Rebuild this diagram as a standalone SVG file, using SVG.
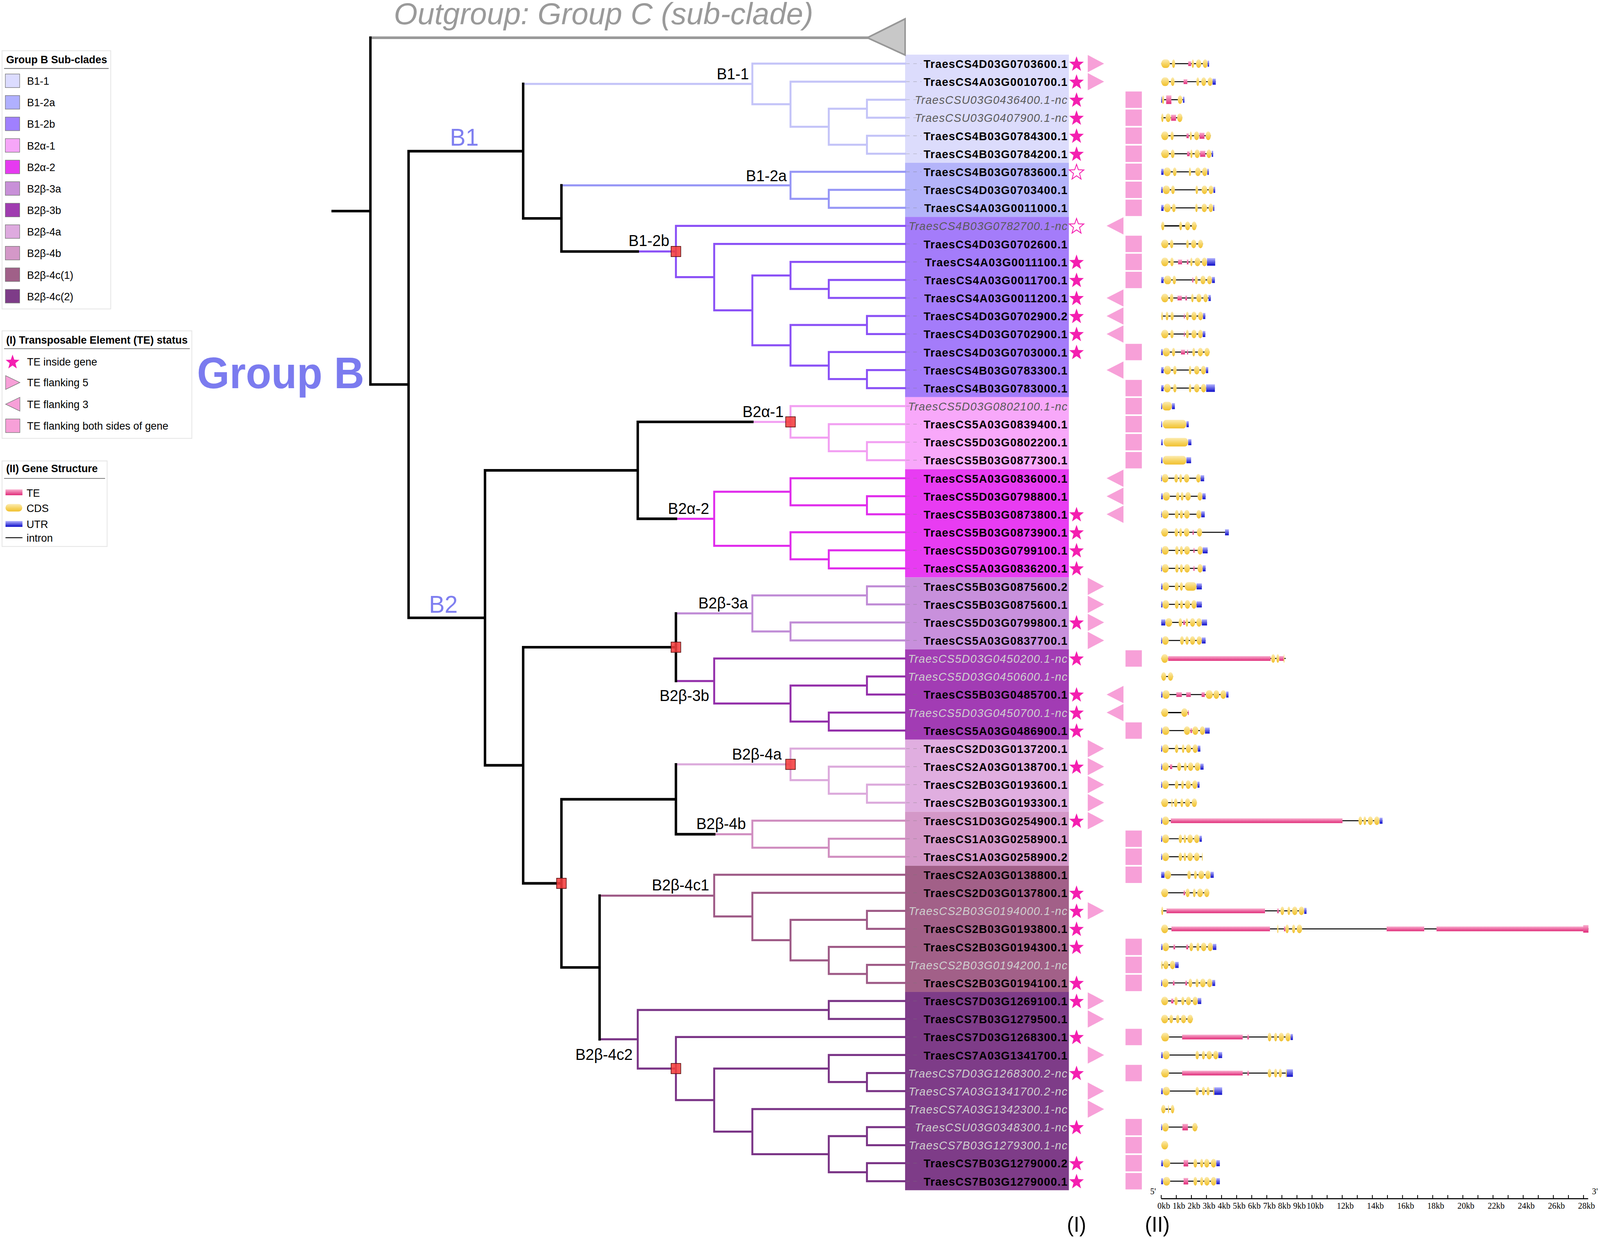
<svg xmlns="http://www.w3.org/2000/svg" width="4331" height="3170" viewBox="0 0 4331 3170">
<defs>
<style>
.n{font-family:"Liberation Sans",Arial,sans-serif;font-weight:bold;font-size:11px;letter-spacing:.5px;text-anchor:end;fill:#000}
.ni{font-family:"Liberation Sans",Arial,sans-serif;font-style:italic;font-size:11px;letter-spacing:.5px;text-anchor:end;fill:#5a5a5a}
.nl{fill:#cfcfcf}
.sf{fill:#f41fb0}
.so{fill:#fff;stroke:#f41fb0;stroke-width:.8}
.pk{fill:#f7a0d8}
.c{fill:url(#gC)}
.u{fill:url(#gU)}
.t{fill:url(#gT)}
.in{fill:none;stroke:#000;stroke-width:.9}
.k{fill:none;stroke:#000;stroke-width:2.4;stroke-linecap:square}
.b{fill:none;stroke-width:1.9;stroke-linecap:square}
.ld{fill:none;stroke:#777;stroke-opacity:.35;stroke-width:.6;stroke-dasharray:3.5 3.5}
.lab{font-family:"Liberation Sans",Arial,sans-serif;font-size:15px;text-anchor:end;fill:#000}
.lg{font-family:"Liberation Sans",Arial,sans-serif;font-size:10.3px;fill:#000}
.lgt{font-family:"Liberation Sans",Arial,sans-serif;font-weight:bold;font-size:10.3px;fill:#000}
.box{fill:#fff;stroke:#e6e6e6;stroke-width:.8}
.ul{stroke:#555;stroke-width:.6}
.sw{stroke:#777;stroke-width:.5}
.rs{fill:#f23c3c;fill-opacity:.88;stroke:#5a1010;stroke-width:.6}
.ax{font-family:"Liberation Serif","Times New Roman",serif;font-size:8.3px;fill:#000;text-anchor:middle}
.big{font-family:"Liberation Sans",Arial,sans-serif;fill:#7f7ff0}
</style>
<linearGradient id="gC" x1="0" y1="0" x2="0" y2="1"><stop offset="0" stop-color="#fcecb2"/><stop offset=".6" stop-color="#f6d15a"/><stop offset="1" stop-color="#f0c030"/></linearGradient>
<linearGradient id="gU" x1="0" y1="0" x2="0" y2="1"><stop offset="0" stop-color="#b4b4ff"/><stop offset="1" stop-color="#0a0ac8"/></linearGradient>
<linearGradient id="gT" x1="0" y1="0" x2="0" y2="1"><stop offset="0" stop-color="#f9b0d0"/><stop offset="1" stop-color="#e02a78"/></linearGradient>
<path id="st" d="M0,-7.5L1.82,-2.51L7.13,-2.32L2.95,0.96L4.41,6.07L0,3.1L-4.41,6.07L-2.95,0.96L-7.13,-2.32L-1.82,-2.51Z"/>
<polygon id="tr" class="pk" points="1066,-8 1082,0 1066,8"/>
<polygon id="tl" class="pk" points="1101,-8 1084.5,0 1101,8"/>
<rect id="sq" class="pk" x="1103" y="-7.6" width="16" height="15.2"/>
</defs>
<rect width="4331" height="3170" fill="#fff"/>
<g transform="scale(2.61225,2.76212)">

<g id="legend-subclades">
<rect class="box" x="2" y="47" width="106.5" height="239.4"/>
<text class="lgt" x="6" y="58.5">Group B Sub-clades</text>
<line class="ul" x1="4" y1="63.5" x2="106.5" y2="63.5"/>
<rect class="sw" x="5.2" y="68.6" width="14.1" height="12.6" fill="#dcdcff"/><text class="lg" x="26.5" y="78.6">B1-1</text>
<rect class="sw" x="5.2" y="88.57" width="14.1" height="12.6" fill="#b0b0ff"/><text class="lg" x="26.5" y="98.57">B1-2a</text>
<rect class="sw" x="5.2" y="108.54" width="14.1" height="12.6" fill="#a080ff"/><text class="lg" x="26.5" y="118.54">B1-2b</text>
<rect class="sw" x="5.2" y="128.51" width="14.1" height="12.6" fill="#f6a6f8"/><text class="lg" x="26.5" y="138.51">B2α-1</text>
<rect class="sw" x="5.2" y="148.48" width="14.1" height="12.6" fill="#e63af0"/><text class="lg" x="26.5" y="158.48">B2α-2</text>
<rect class="sw" x="5.2" y="168.45" width="14.1" height="12.6" fill="#c890d8"/><text class="lg" x="26.5" y="178.45">B2β-3a</text>
<rect class="sw" x="5.2" y="188.42" width="14.1" height="12.6" fill="#a03cb0"/><text class="lg" x="26.5" y="198.42">B2β-3b</text>
<rect class="sw" x="5.2" y="208.39" width="14.1" height="12.6" fill="#deaadf"/><text class="lg" x="26.5" y="218.39">B2β-4a</text>
<rect class="sw" x="5.2" y="228.36" width="14.1" height="12.6" fill="#d498c8"/><text class="lg" x="26.5" y="238.36">B2β-4b</text>
<rect class="sw" x="5.2" y="248.33" width="14.1" height="12.6" fill="#a06088"/><text class="lg" x="26.5" y="258.33">B2β-4c(1)</text>
<rect class="sw" x="5.2" y="268.3" width="14.1" height="12.6" fill="#7e3c88"/><text class="lg" x="26.5" y="278.3">B2β-4c(2)</text>
</g>

<g id="legend-te">
<rect class="box" x="2" y="306.7" width="186" height="99.7"/>
<text class="lgt" x="6" y="318.7">(I) Transposable Element (TE) status</text>
<line class="ul" x1="4" y1="323.2" x2="186" y2="323.2"/>
<use href="#st" class="sf" transform="translate(12.3,335.8) scale(.95)"/>
<polygon class="pk sw" points="5.5,348.2 19.5,354.6 5.5,361"/>
<polygon class="pk sw" points="19.5,368.3 5.5,374.7 19.5,381.1"/>
<rect class="pk sw" x="5.5" y="388.4" width="14" height="12.6"/>
<text class="lg" x="26.5" y="338.8">TE inside gene</text>
<text class="lg" x="26.5" y="358.2">TE flanking 5</text>
<text class="lg" x="26.5" y="378.3">TE flanking 3</text>
<text class="lg" x="26.5" y="398.3">TE flanking both sides of gene</text>
</g>

<g id="legend-structure">
<rect class="box" x="2" y="427.3" width="103" height="79.3"/>
<text class="lgt" x="6" y="437.8">(II) Gene Structure</text>
<line class="ul" x1="4" y1="443.5" x2="103" y2="443.5"/>
<rect class="t" x="5.4" y="453.7" width="16.6" height="5.4"/>
<rect class="c" x="5.4" y="467.2" width="16.4" height="7" rx="3.5" ry="3.5"/>
<rect class="u" x="5.4" y="483" width="16.6" height="5.4"/>
<line x1="5.4" y1="498.5" x2="22" y2="498.5" stroke="#000" stroke-width=".8"/>
<text class="lg" x="26" y="460.5">TE</text>
<text class="lg" x="26" y="474.6">CDS</text>
<text class="lg" x="26" y="489.4">UTR</text>
<text class="lg" x="26" y="502.2">intron</text>
</g>

<g id="bands">
<rect x="887" y="50.65" width="160.5" height="100.26" fill="#dcdcfc"/>
<rect x="887" y="150.91" width="160.5" height="50.13" fill="#b4b4fa"/>
<rect x="887" y="201.04" width="160.5" height="167.1" fill="#a47cfa"/>
<rect x="887" y="368.14" width="160.5" height="66.84" fill="#f8a8fa"/>
<rect x="887" y="434.98" width="160.5" height="100.26" fill="#e83cf2"/>
<rect x="887" y="535.24" width="160.5" height="66.84" fill="#c890dc"/>
<rect x="887" y="602.08" width="160.5" height="83.55" fill="#a23cb4"/>
<rect x="887" y="685.63" width="160.5" height="66.84" fill="#e0aee0"/>
<rect x="887" y="752.47" width="160.5" height="50.13" fill="#d498c8"/>
<rect x="887" y="802.6" width="160.5" height="116.97" fill="#a26088"/>
<rect x="887" y="919.57" width="160.5" height="183.81" fill="#7e3c88"/>
</g>

<g id="outgroup">
<text x="386" y="22.5" textLength="411" lengthAdjust="spacingAndGlyphs" style="font-family:'Liberation Sans',Arial,sans-serif;font-style:italic;font-size:28px;fill:#9a9a9a">Outgroup: Group C (sub-clade)</text>
<polygon points="850,35 887,17.5 887,51" fill="#c8c8c8" stroke="#979797" stroke-width="1.5" stroke-linejoin="miter"/>
</g>

<g id="clade-titles">
<text class="big" x="193" y="360" style="font-weight:bold;font-size:41px;fill:#7b7bef">Group B</text>
<text class="big" x="455" y="135" style="font-size:23px;text-anchor:middle">B1</text>
<text class="big" x="434.5" y="568" style="font-size:23px;text-anchor:middle">B2</text>
<text class="lab" x="734" y="73.5">B1-1</text>
<text class="lab" x="771" y="168">B1-2a</text>
<text class="lab" x="656" y="228">B1-2b</text>
<text class="lab" x="768" y="386.5">B2α-1</text>
<text class="lab" x="695" y="476.5">B2α-2</text>
<text class="lab" x="733" y="564">B2β-3a</text>
<text class="lab" x="695" y="650">B2β-3b</text>
<text class="lab" x="766" y="704">B2β-4a</text>
<text class="lab" x="731" y="768.5">B2β-4b</text>
<text class="lab" x="695" y="825.5">B2β-4c1</text>
<text class="lab" x="620" y="982.5">B2β-4c2</text>
</g>

<g id="connectors">
<path d="M363,35H851" fill="none" stroke="#999" stroke-width="2.4"/>
<path class="b" stroke="#c4c4f8" d="M512.7,77.8H737.3M887,59H737.3V96.6H774.7M887,75.71H774.7V117.49H812.2M849.6,100.78H812.2V134.2H849.6M887,92.42H849.6V109.13H887M887,125.84H849.6V142.55H887"/>
<path class="b" stroke="#9696f6" d="M550.2,171.8H774.7M887,159.26H774.7V184.33H812.2M887,175.97H812.2V192.68H887"/>
<path class="b" stroke="#8a50f6" d="M625,233.15H662.4M887,209.39H662.4V256.9H699.9M887,226.1H699.9V287.73H737.3M774.7,255.35H737.3V320.1H774.7M887,242.81H774.7V267.88H812.2M887,259.52H812.2V276.23H887M849.6,301.3H774.7V338.9H812.2M887,292.94H849.6V309.65H887M887,326.36H812.2V351.43H849.6M887,343.07H849.6V359.78H887"/>
<path class="b" stroke="#f2a0f2" d="M737.3,391.11H774.7M887,376.49H774.7V405.73H812.2M887,393.2H812.2V418.27H849.6M887,409.91H849.6V426.62H887"/>
<path class="b" stroke="#e02cec" d="M662.4,480.93H699.9M774.7,455.86H699.9V506H774.7M887,443.33H774.7V468.4H849.6M887,460.04H849.6V476.75H887M887,493.46H774.7V518.53H812.2M887,510.17H812.2V526.88H887"/>
<path class="b" stroke="#c08cd6" d="M662.4,568.66H737.3M849.6,551.95H737.3V585.37H774.7M887,543.59H849.6V560.3H887M887,577.01H774.7V593.72H887"/>
<path class="b" stroke="#9430aa" d="M662.4,631.32H699.9M887,610.43H699.9V652.21H774.7M849.6,635.5H774.7V668.92H812.2M887,627.14H849.6V643.85H887M887,660.56H812.2V677.27H887"/>
<path class="b" stroke="#dcaadc" d="M662.4,708.6H774.7M887,693.98H774.7V723.22H812.2M887,710.69H812.2V735.76H849.6M887,727.4H849.6V744.11H887"/>
<path class="b" stroke="#d08ec0" d="M699.9,773.35H737.3M887,760.82H737.3V785.89H812.2M887,777.53H812.2V794.24H887"/>
<path class="b" stroke="#9e5a86" d="M587.6,830.27H699.9M887,810.95H699.9V849.6H737.3M887,827.66H737.3V871.53H774.7M849.6,852.73H774.7V890.32H812.2M887,844.37H849.6V861.08H887M887,877.79H812.2V902.86H849.6M887,894.5H849.6V911.21H887"/>
<path class="b" stroke="#7a3486" d="M587.6,963.43H625M812.2,936.28H625V990.59H662.4M887,927.92H812.2V944.63H887M887,961.34H662.4V1019.83H699.9M812.2,990.59H699.9V1049.07H737.3M887,978.05H812.2V1003.12H849.6M887,994.76H849.6V1011.47H887M887,1028.18H737.3V1069.96H812.2M849.6,1053.25H812.2V1086.67H849.6M887,1044.89H849.6V1061.6H887M887,1078.31H849.6V1095.02H887"/>
<path class="k" d="M326,195.7H363M363,35V356.44H400.4M512.7,140.14H400.4V572.74H475.3M512.7,77.8V202.48H550.2M550.2,171.8V233.15H625M625,436.02H475.3V709.45H512.7M737.3,391.11H625V480.93H662.4M662.4,600H512.7V818.9H550.2M662.4,568.66V631.32M662.4,740.98H550.2V896.85H587.6M662.4,708.6V773.35H699.9M587.6,830.27V963.43"/>
<path class="ld" d="M888 59h15M888 75.71h15M888 92.42h15M888 109.13h15M888 125.84h15M888 142.55h15M888 159.26h15M888 175.97h15M888 192.68h15M888 209.39h15M888 226.1h15M888 242.81h15M888 259.52h15M888 276.23h15M888 292.94h15M888 309.65h15M888 326.36h15M888 343.07h15M888 359.78h15M888 376.49h15M888 393.2h15M888 409.91h15M888 426.62h15M888 443.33h15M888 460.04h15M888 476.75h15M888 493.46h15M888 510.17h15M888 526.88h15M888 543.59h15M888 560.3h15M888 577.01h15M888 593.72h15M888 610.43h15M888 627.14h15M888 643.85h15M888 660.56h15M888 677.27h15M888 693.98h15M888 710.69h15M888 727.4h15M888 744.11h15M888 760.82h15M888 777.53h15M888 794.24h15M888 810.95h15M888 827.66h15M888 844.37h15M888 861.08h15M888 877.79h15M888 894.5h15M888 911.21h15M888 927.92h15M888 944.63h15M888 961.34h15M888 978.05h15M888 994.76h15M888 1011.47h15M888 1028.18h15M888 1044.89h15M888 1061.6h15M888 1078.31h15M888 1095.02h15"/>
<rect class="rs" x="657.65" y="228.4" width="9.5" height="9.5"/>
<rect class="rs" x="769.95" y="386.36" width="9.5" height="9.5"/>
<rect class="rs" x="657.65" y="595.25" width="9.5" height="9.5"/>
<rect class="rs" x="769.95" y="703.85" width="9.5" height="9.5"/>
<rect class="rs" x="545.45" y="814.15" width="9.5" height="9.5"/>
<rect class="rs" x="657.65" y="985.84" width="9.5" height="9.5"/>
</g>

<g id="rows">
<g id="r0" transform="translate(0,59)"><text class="n" x="1046.5" y="4">TraesCS4D03G0703600.1</text><use href="#st" class="sf" x="1055" y=".6"/><use href="#tr"/><g transform="translate(1122.37,0) scale(.28423,1)"><path class="in" d="M55 0H220"/><rect class="c" x="55" y="-4" width="30" height="8" rx="12" ry="4"/><rect class="c" x="92" y="-4" width="11" height="8" rx="12" ry="4"/><rect class="t" x="148" y="-2.2" width="10" height="4.4"/><rect class="c" x="160" y="-4" width="8" height="8" rx="12" ry="4"/><rect class="c" x="175" y="-4" width="18" height="8" rx="12" ry="4"/><rect class="c" x="198" y="-4" width="17" height="8" rx="12" ry="4"/><rect class="u" x="215" y="-2.8" width="5" height="5.6"/></g></g>
<g id="r1" transform="translate(0,75.71)"><text class="n" x="1046.5" y="4">TraesCS4A03G0010700.1</text><use href="#st" class="sf" x="1055" y=".6"/><use href="#tr"/><g transform="translate(1122.37,0) scale(.28423,1)"><path class="in" d="M55 0H243"/><rect class="c" x="55" y="-4" width="27" height="8" rx="12" ry="4"/><rect class="c" x="88" y="-4" width="13" height="8" rx="12" ry="4"/><rect class="t" x="132" y="-2.2" width="13" height="4.4"/><rect class="c" x="176" y="-4" width="10" height="8" rx="12" ry="4"/><rect class="c" x="193" y="-4" width="17" height="8" rx="12" ry="4"/><rect class="c" x="215" y="-4" width="17" height="8" rx="12" ry="4"/><rect class="u" x="232" y="-2.8" width="11" height="5.6"/></g></g>
<g id="r2" transform="translate(0,92.42)"><text class="ni" x="1046.5" y="4">TraesCSU03G0436400.1-nc</text><use href="#st" class="sf" x="1055" y=".6"/><use href="#sq"/><g transform="translate(1122.37,0) scale(.28423,1)"><path class="in" d="M55 0H135"/><rect class="u" x="55" y="-2.8" width="3" height="5.6"/><rect class="c" x="58" y="-4" width="7" height="8" rx="12" ry="4"/><rect class="t" x="72" y="-4" width="18" height="8"/><rect class="c" x="112" y="-4" width="16" height="8" rx="12" ry="4"/><rect class="u" x="130" y="-2.8" width="5" height="5.6"/></g></g>
<g id="r3" transform="translate(0,109.13)"><text class="ni" x="1046.5" y="4">TraesCSU03G0407900.1-nc</text><use href="#st" class="sf" x="1055" y=".6"/><use href="#sq"/><g transform="translate(1122.37,0) scale(.28423,1)"><path class="in" d="M55 0H128"/><rect class="c" x="55" y="-4" width="8" height="8" rx="12" ry="4"/><rect class="c" x="70" y="-4" width="18" height="8" rx="12" ry="4"/><rect class="t" x="89" y="-2.8" width="17" height="5.6"/><rect class="c" x="110" y="-4" width="18" height="8" rx="12" ry="4"/></g></g>
<g id="r4" transform="translate(0,125.84)"><text class="n" x="1046.5" y="4">TraesCS4B03G0784300.1</text><use href="#st" class="sf" x="1055" y=".6"/><use href="#sq"/><g transform="translate(1122.37,0) scale(.28423,1)"><path class="in" d="M55 0H226"/><rect class="c" x="55" y="-4" width="25" height="8" rx="12" ry="4"/><rect class="c" x="87" y="-4" width="11" height="8" rx="12" ry="4"/><rect class="t" x="142" y="-2.2" width="8" height="4.4"/><rect class="c" x="153" y="-4" width="8" height="8" rx="12" ry="4"/><rect class="c" x="168" y="-4" width="18" height="8" rx="12" ry="4"/><rect class="t" x="187" y="-2.8" width="17" height="5.6"/><rect class="c" x="208" y="-4" width="18" height="8" rx="12" ry="4"/></g></g>
<g id="r5" transform="translate(0,142.55)"><text class="n" x="1046.5" y="4">TraesCS4B03G0784200.1</text><use href="#st" class="sf" x="1055" y=".6"/><use href="#sq"/><g transform="translate(1122.37,0) scale(.28423,1)"><path class="in" d="M55 0H234"/><rect class="c" x="55" y="-4" width="27" height="8" rx="12" ry="4"/><rect class="c" x="88" y="-4" width="13" height="8" rx="12" ry="4"/><rect class="t" x="144" y="-2.2" width="9" height="4.4"/><rect class="c" x="155" y="-4" width="8" height="8" rx="12" ry="4"/><rect class="c" x="170" y="-4" width="18" height="8" rx="12" ry="4"/><rect class="t" x="189" y="-2.8" width="18" height="5.6"/><rect class="c" x="211" y="-4" width="17" height="8" rx="12" ry="4"/><rect class="u" x="229" y="-2.8" width="5" height="5.6"/></g></g>
<g id="r6" transform="translate(0,159.26)"><text class="n" x="1046.5" y="4">TraesCS4B03G0783600.1</text><use href="#st" class="so" x="1055" y=".6"/><use href="#sq"/><g transform="translate(1122.37,0) scale(.28423,1)"><path class="in" d="M55 0H219"/><rect class="u" x="55" y="-2.8" width="8" height="5.6"/><rect class="c" x="63" y="-4" width="25" height="8" rx="12" ry="4"/><rect class="c" x="95" y="-4" width="13" height="8" rx="12" ry="4"/><rect class="c" x="150" y="-4" width="8" height="8" rx="12" ry="4"/><rect class="c" x="172" y="-4" width="19" height="8" rx="12" ry="4"/><rect class="c" x="196" y="-4" width="18" height="8" rx="12" ry="4"/><rect class="u" x="214" y="-2.8" width="5" height="5.6"/></g></g>
<g id="r7" transform="translate(0,175.97)"><text class="n" x="1046.5" y="4">TraesCS4D03G0703400.1</text><use href="#sq"/><g transform="translate(1122.37,0) scale(.28423,1)"><path class="in" d="M55 0H241"/><rect class="u" x="55" y="-2.8" width="5" height="5.6"/><rect class="c" x="60" y="-4" width="25" height="8" rx="12" ry="4"/><rect class="c" x="89" y="-4" width="13" height="8" rx="12" ry="4"/><rect class="c" x="173" y="-4" width="9" height="8" rx="12" ry="4"/><rect class="c" x="194" y="-4" width="20" height="8" rx="12" ry="4"/><rect class="c" x="218" y="-4" width="17" height="8" rx="12" ry="4"/><rect class="u" x="235" y="-2.8" width="6" height="5.6"/></g></g>
<g id="r8" transform="translate(0,192.68)"><text class="n" x="1046.5" y="4">TraesCS4A03G0011000.1</text><use href="#sq"/><g transform="translate(1122.37,0) scale(.28423,1)"><path class="in" d="M55 0H238"/><rect class="u" x="55" y="-2.8" width="8" height="5.6"/><rect class="c" x="64" y="-4" width="24" height="8" rx="12" ry="4"/><rect class="c" x="92" y="-4" width="13" height="8" rx="12" ry="4"/><rect class="c" x="172" y="-4" width="9" height="8" rx="12" ry="4"/><rect class="c" x="194" y="-4" width="19" height="8" rx="12" ry="4"/><rect class="c" x="218" y="-4" width="16" height="8" rx="12" ry="4"/><rect class="u" x="234" y="-2.8" width="4" height="5.6"/></g></g>
<g id="r9" transform="translate(0,209.39)"><text class="ni" x="1046.5" y="4">TraesCS4B03G0782700.1-nc</text><use href="#st" class="so" x="1055" y=".6"/><use href="#tl"/><g transform="translate(1122.37,0) scale(.28423,1)"><path class="in" d="M55 0H177" style="stroke-width:1.2"/><rect class="c" x="55" y="-4" width="11" height="8" rx="12" ry="4"/><rect class="c" x="117" y="-4" width="10" height="8" rx="12" ry="4"/><rect class="c" x="137" y="-4" width="18" height="8" rx="12" ry="4"/><rect class="c" x="160" y="-4" width="17" height="8" rx="12" ry="4"/></g></g>
<g id="r10" transform="translate(0,226.1)"><text class="n" x="1046.5" y="4">TraesCS4D03G0702600.1</text><use href="#sq"/><g transform="translate(1122.37,0) scale(.28423,1)"><path class="in" d="M55 0H199"/><rect class="c" x="55" y="-4" width="25" height="8" rx="12" ry="4"/><rect class="c" x="85" y="-4" width="12" height="8" rx="12" ry="4"/><rect class="c" x="141" y="-4" width="9" height="8" rx="12" ry="4"/><rect class="c" x="158" y="-4" width="18" height="8" rx="12" ry="4"/><rect class="c" x="182" y="-4" width="17" height="8" rx="12" ry="4"/></g></g>
<g id="r11" transform="translate(0,242.81)"><text class="n" x="1046.5" y="4">TraesCS4A03G0011100.1</text><use href="#st" class="sf" x="1055" y=".6"/><use href="#sq"/><g transform="translate(1122.37,0) scale(.28423,1)"><path class="in" d="M55 0H241"/><rect class="c" x="55" y="-4" width="25" height="8" rx="12" ry="4"/><rect class="c" x="86" y="-4" width="12" height="8" rx="12" ry="4"/><rect class="t" x="113" y="-2.2" width="14" height="4.4"/><rect class="t" x="143" y="-2.2" width="6" height="4.4"/><rect class="c" x="155" y="-4" width="8" height="8" rx="12" ry="4"/><rect class="c" x="170" y="-4" width="20" height="8" rx="12" ry="4"/><rect class="c" x="195" y="-4" width="18" height="8" rx="12" ry="4"/><rect class="u" x="213" y="-3.5" width="28" height="7"/></g></g>
<g id="r12" transform="translate(0,259.52)"><text class="n" x="1046.5" y="4">TraesCS4A03G0011700.1</text><use href="#st" class="sf" x="1055" y=".6"/><use href="#sq"/><g transform="translate(1122.37,0) scale(.28423,1)"><path class="in" d="M55 0H240"/><rect class="u" x="55" y="-2.8" width="8" height="5.6"/><rect class="c" x="64" y="-4" width="26" height="8" rx="12" ry="4"/><rect class="c" x="94" y="-4" width="12" height="8" rx="12" ry="4"/><rect class="t" x="162" y="-2.2" width="4" height="4.4"/><rect class="c" x="171" y="-4" width="10" height="8" rx="12" ry="4"/><rect class="c" x="190" y="-4" width="18" height="8" rx="12" ry="4"/><rect class="c" x="213" y="-4" width="17" height="8" rx="12" ry="4"/><rect class="u" x="230" y="-2.8" width="10" height="5.6"/></g></g>
<g id="r13" transform="translate(0,276.23)"><text class="n" x="1046.5" y="4">TraesCS4A03G0011200.1</text><use href="#st" class="sf" x="1055" y=".6"/><use href="#tl"/><g transform="translate(1122.37,0) scale(.28423,1)"><path class="in" d="M55 0H226"/><rect class="c" x="55" y="-4" width="25" height="8" rx="12" ry="4"/><rect class="c" x="85" y="-4" width="12" height="8" rx="12" ry="4"/><rect class="t" x="111" y="-2.2" width="15" height="4.4"/><rect class="t" x="138" y="-2.2" width="6" height="4.4"/><rect class="c" x="158" y="-4" width="9" height="8" rx="12" ry="4"/><rect class="c" x="176" y="-4" width="18" height="8" rx="12" ry="4"/><rect class="c" x="200" y="-4" width="16" height="8" rx="12" ry="4"/><rect class="u" x="218" y="-2.8" width="8" height="5.6"/></g></g>
<g id="r14" transform="translate(0,292.94)"><text class="n" x="1046.5" y="4">TraesCS4D03G0702900.2</text><use href="#st" class="sf" x="1055" y=".6"/><use href="#tl"/><g transform="translate(1122.37,0) scale(.28423,1)"><path class="in" d="M55 0H207"/><rect class="c" x="55" y="-4" width="6" height="8" rx="12" ry="4"/><rect class="c" x="70" y="-4" width="10" height="8" rx="12" ry="4"/><rect class="c" x="87" y="-4" width="11" height="8" rx="12" ry="4"/><rect class="t" x="133" y="-2.2" width="3" height="4.4"/><rect class="c" x="140" y="-4" width="10" height="8" rx="12" ry="4"/><rect class="c" x="159" y="-4" width="18" height="8" rx="12" ry="4"/><rect class="c" x="182" y="-4" width="17" height="8" rx="12" ry="4"/><rect class="u" x="199" y="-2.8" width="8" height="5.6"/></g></g>
<g id="r15" transform="translate(0,309.65)"><text class="n" x="1046.5" y="4">TraesCS4D03G0702900.1</text><use href="#st" class="sf" x="1055" y=".6"/><use href="#tl"/><g transform="translate(1122.37,0) scale(.28423,1)"><path class="in" d="M55 0H207"/><rect class="c" x="55" y="-4" width="25" height="8" rx="12" ry="4"/><rect class="c" x="86" y="-4" width="12" height="8" rx="12" ry="4"/><rect class="t" x="133" y="-2.2" width="3" height="4.4"/><rect class="c" x="140" y="-4" width="10" height="8" rx="12" ry="4"/><rect class="c" x="159" y="-4" width="18" height="8" rx="12" ry="4"/><rect class="c" x="182" y="-4" width="16" height="8" rx="12" ry="4"/><rect class="u" x="198" y="-2.8" width="9" height="5.6"/></g></g>
<g id="r16" transform="translate(0,326.36)"><text class="n" x="1046.5" y="4">TraesCS4D03G0703000.1</text><use href="#st" class="sf" x="1055" y=".6"/><use href="#sq"/><g transform="translate(1122.37,0) scale(.28423,1)"><path class="in" d="M55 0H222"/><rect class="u" x="55" y="-2.8" width="5" height="5.6"/><rect class="c" x="60" y="-4" width="25" height="8" rx="12" ry="4"/><rect class="c" x="92" y="-4" width="11" height="8" rx="12" ry="4"/><rect class="t" x="123" y="-2.2" width="14" height="4.4"/><rect class="t" x="144" y="-2.2" width="4" height="4.4"/><rect class="c" x="162" y="-4" width="10" height="8" rx="12" ry="4"/><rect class="c" x="181" y="-4" width="18" height="8" rx="12" ry="4"/><rect class="c" x="204" y="-4" width="18" height="8" rx="12" ry="4"/></g></g>
<g id="r17" transform="translate(0,343.07)"><text class="n" x="1046.5" y="4">TraesCS4B03G0783300.1</text><use href="#tl"/><g transform="translate(1122.37,0) scale(.28423,1)"><path class="in" d="M55 0H217"/><rect class="u" x="55" y="-2.8" width="8" height="5.6"/><rect class="c" x="64" y="-4" width="25" height="8" rx="12" ry="4"/><rect class="c" x="96" y="-4" width="12" height="8" rx="12" ry="4"/><rect class="c" x="150" y="-4" width="9" height="8" rx="12" ry="4"/><rect class="c" x="168" y="-4" width="19" height="8" rx="12" ry="4"/><rect class="c" x="192" y="-4" width="17" height="8" rx="12" ry="4"/><rect class="u" x="209" y="-2.8" width="8" height="5.6"/></g></g>
<g id="r18" transform="translate(0,359.78)"><text class="n" x="1046.5" y="4">TraesCS4B03G0783000.1</text><use href="#sq"/><g transform="translate(1122.37,0) scale(.28423,1)"><path class="in" d="M55 0H240"/><rect class="u" x="55" y="-2.8" width="8" height="5.6"/><rect class="c" x="64" y="-4" width="24" height="8" rx="12" ry="4"/><rect class="c" x="96" y="-4" width="12" height="8" rx="12" ry="4"/><rect class="c" x="150" y="-4" width="9" height="8" rx="12" ry="4"/><rect class="c" x="168" y="-4" width="19" height="8" rx="12" ry="4"/><rect class="c" x="192" y="-4" width="18" height="8" rx="12" ry="4"/><rect class="u" x="210" y="-3.5" width="30" height="7"/></g></g>
<g id="r19" transform="translate(0,376.49)"><text class="ni" x="1046.5" y="4">TraesCS5D03G0802100.1-nc</text><use href="#sq"/><g transform="translate(1122.37,0) scale(.28423,1)"><rect class="u" x="55" y="-2.8" width="3" height="5.6"/><rect class="c" x="58" y="-4" width="34" height="8" rx="12" ry="4"/><rect class="u" x="92" y="-2.8" width="10" height="5.6"/></g></g>
<g id="r20" transform="translate(0,393.2)"><text class="n" x="1046.5" y="4">TraesCS5A03G0839400.1</text><use href="#sq"/><g transform="translate(1122.37,0) scale(.28423,1)"><rect class="u" x="55" y="-2.8" width="3" height="5.6"/><rect class="c" x="60" y="-4" width="82" height="8" rx="12" ry="4"/><rect class="u" x="142" y="-2.8" width="8" height="5.6"/></g></g>
<g id="r21" transform="translate(0,409.91)"><text class="n" x="1046.5" y="4">TraesCS5D03G0802200.1</text><use href="#sq"/><g transform="translate(1122.37,0) scale(.28423,1)"><rect class="u" x="55" y="-2.8" width="5" height="5.6"/><rect class="c" x="63" y="-4" width="85" height="8" rx="12" ry="4"/><rect class="u" x="148" y="-2.8" width="11" height="5.6"/></g></g>
<g id="r22" transform="translate(0,426.62)"><text class="n" x="1046.5" y="4">TraesCS5B03G0877300.1</text><use href="#sq"/><g transform="translate(1122.37,0) scale(.28423,1)"><rect class="u" x="55" y="-2.8" width="4" height="5.6"/><rect class="c" x="60" y="-4" width="82" height="8" rx="12" ry="4"/><rect class="u" x="142" y="-2.8" width="16" height="5.6"/></g></g>
<g id="r23" transform="translate(0,443.33)"><text class="n" x="1046.5" y="4">TraesCS5A03G0836000.1</text><use href="#tl"/><g transform="translate(1122.37,0) scale(.28423,1)"><path class="in" d="M55 0H203"/><rect class="u" x="55" y="-2.8" width="2" height="5.6"/><rect class="c" x="57" y="-4" width="23" height="8" rx="12" ry="4"/><rect class="c" x="100" y="-4" width="13" height="8" rx="12" ry="4"/><rect class="c" x="117" y="-4" width="10" height="8" rx="12" ry="4"/><rect class="c" x="133" y="-4" width="19" height="8" rx="12" ry="4"/><rect class="c" x="175" y="-4" width="16" height="8" rx="12" ry="4"/><rect class="u" x="191" y="-2.8" width="12" height="5.6"/></g></g>
<g id="r24" transform="translate(0,460.04)"><text class="n" x="1046.5" y="4">TraesCS5D03G0798800.1</text><use href="#tl"/><g transform="translate(1122.37,0) scale(.28423,1)"><path class="in" d="M55 0H208"/><rect class="u" x="55" y="-2.8" width="5" height="5.6"/><rect class="c" x="60" y="-4" width="25" height="8" rx="12" ry="4"/><rect class="c" x="106" y="-4" width="12" height="8" rx="12" ry="4"/><rect class="c" x="122" y="-4" width="10" height="8" rx="12" ry="4"/><rect class="c" x="138" y="-4" width="19" height="8" rx="12" ry="4"/><rect class="c" x="180" y="-4" width="17" height="8" rx="12" ry="4"/><rect class="u" x="197" y="-2.8" width="11" height="5.6"/></g></g>
<g id="r25" transform="translate(0,476.75)"><text class="n" x="1046.5" y="4">TraesCS5B03G0873800.1</text><use href="#st" class="sf" x="1055" y=".6"/><use href="#tl"/><g transform="translate(1122.37,0) scale(.28423,1)"><path class="in" d="M55 0H205"/><rect class="u" x="55" y="-2.8" width="2" height="5.6"/><rect class="c" x="57" y="-4" width="24" height="8" rx="12" ry="4"/><rect class="c" x="102" y="-4" width="13" height="8" rx="12" ry="4"/><rect class="c" x="119" y="-4" width="11" height="8" rx="12" ry="4"/><rect class="c" x="134" y="-4" width="19" height="8" rx="12" ry="4"/><rect class="c" x="176" y="-4" width="17" height="8" rx="12" ry="4"/><rect class="u" x="193" y="-2.8" width="12" height="5.6"/></g></g>
<g id="r26" transform="translate(0,493.46)"><text class="n" x="1046.5" y="4">TraesCS5B03G0873900.1</text><use href="#st" class="sf" x="1055" y=".6"/><g transform="translate(1122.37,0) scale(.28423,1)"><path class="in" d="M55 0H288"/><rect class="c" x="55" y="-4" width="24" height="8" rx="12" ry="4"/><rect class="c" x="101" y="-4" width="12" height="8" rx="12" ry="4"/><rect class="c" x="117" y="-4" width="10" height="8" rx="12" ry="4"/><rect class="c" x="133" y="-4" width="19" height="8" rx="12" ry="4"/><rect class="t" x="163" y="-2.2" width="4" height="4.4"/><rect class="c" x="178" y="-4" width="18" height="8" rx="12" ry="4"/><rect class="u" x="275" y="-2.8" width="13" height="5.6"/></g></g>
<g id="r27" transform="translate(0,510.17)"><text class="n" x="1046.5" y="4">TraesCS5D03G0799100.1</text><use href="#st" class="sf" x="1055" y=".6"/><g transform="translate(1122.37,0) scale(.28423,1)"><path class="in" d="M55 0H215"/><rect class="u" x="55" y="-2.8" width="2" height="5.6"/><rect class="c" x="57" y="-4" width="24" height="8" rx="12" ry="4"/><rect class="c" x="103" y="-4" width="12" height="8" rx="12" ry="4"/><rect class="c" x="119" y="-4" width="11" height="8" rx="12" ry="4"/><rect class="c" x="134" y="-4" width="20" height="8" rx="12" ry="4"/><rect class="t" x="166" y="-2.2" width="4" height="4.4"/><rect class="c" x="180" y="-4" width="18" height="8" rx="12" ry="4"/><rect class="u" x="198" y="-2.8" width="17" height="5.6"/></g></g>
<g id="r28" transform="translate(0,526.88)"><text class="n" x="1046.5" y="4">TraesCS5A03G0836200.1</text><use href="#st" class="sf" x="1055" y=".6"/><g transform="translate(1122.37,0) scale(.28423,1)"><path class="in" d="M55 0H208"/><rect class="u" x="55" y="-2.8" width="2" height="5.6"/><rect class="c" x="57" y="-4" width="24" height="8" rx="12" ry="4"/><rect class="c" x="103" y="-4" width="12" height="8" rx="12" ry="4"/><rect class="c" x="119" y="-4" width="11" height="8" rx="12" ry="4"/><rect class="c" x="134" y="-4" width="20" height="8" rx="12" ry="4"/><rect class="t" x="166" y="-2.2" width="4" height="4.4"/><rect class="c" x="180" y="-4" width="18" height="8" rx="12" ry="4"/><rect class="u" x="198" y="-2.8" width="10" height="5.6"/></g></g>
<g id="r29" transform="translate(0,543.59)"><text class="n" x="1046.5" y="4">TraesCS5B03G0875600.2</text><use href="#tr"/><g transform="translate(1122.37,0) scale(.28423,1)"><path class="in" d="M55 0H195"/><rect class="u" x="55" y="-2.8" width="4" height="5.6"/><rect class="c" x="59" y="-4" width="23" height="8" rx="12" ry="4"/><rect class="c" x="102" y="-4" width="13" height="8" rx="12" ry="4"/><rect class="c" x="119" y="-4" width="11" height="8" rx="12" ry="4"/><rect class="c" x="136" y="-4" width="41" height="8" rx="12" ry="4"/><rect class="u" x="177" y="-2.8" width="18" height="5.6"/></g></g>
<g id="r30" transform="translate(0,560.3)"><text class="n" x="1046.5" y="4">TraesCS5B03G0875600.1</text><use href="#tr"/><g transform="translate(1122.37,0) scale(.28423,1)"><path class="in" d="M55 0H195"/><rect class="u" x="55" y="-2.8" width="4" height="5.6"/><rect class="c" x="59" y="-4" width="23" height="8" rx="12" ry="4"/><rect class="c" x="102" y="-4" width="13" height="8" rx="12" ry="4"/><rect class="c" x="120" y="-4" width="10" height="8" rx="12" ry="4"/><rect class="c" x="136" y="-4" width="19" height="8" rx="12" ry="4"/><rect class="c" x="159" y="-4" width="18" height="8" rx="12" ry="4"/><rect class="u" x="177" y="-2.8" width="18" height="5.6"/></g></g>
<g id="r31" transform="translate(0,577.01)"><text class="n" x="1046.5" y="4">TraesCS5D03G0799800.1</text><use href="#st" class="sf" x="1055" y=".6"/><use href="#tr"/><g transform="translate(1122.37,0) scale(.28423,1)"><path class="in" d="M55 0H213"/><rect class="u" x="55" y="-2.8" width="14" height="5.6"/><rect class="c" x="69" y="-4" width="24" height="8" rx="12" ry="4"/><rect class="c" x="115" y="-4" width="12" height="8" rx="12" ry="4"/><rect class="t" x="131" y="-2.2" width="6" height="4.4"/><rect class="c" x="139" y="-4" width="9" height="8" rx="12" ry="4"/><rect class="c" x="154" y="-4" width="18" height="8" rx="12" ry="4"/><rect class="c" x="176" y="-4" width="19" height="8" rx="12" ry="4"/><rect class="u" x="195" y="-2.8" width="18" height="5.6"/></g></g>
<g id="r32" transform="translate(0,593.72)"><text class="n" x="1046.5" y="4">TraesCS5A03G0837700.1</text><use href="#tr"/><g transform="translate(1122.37,0) scale(.28423,1)"><path class="in" d="M55 0H208"/><rect class="u" x="55" y="-2.8" width="3" height="5.6"/><rect class="c" x="58" y="-4" width="23" height="8" rx="12" ry="4"/><rect class="c" x="120" y="-4" width="13" height="8" rx="12" ry="4"/><rect class="c" x="138" y="-4" width="12" height="8" rx="12" ry="4"/><rect class="c" x="154" y="-4" width="18" height="8" rx="12" ry="4"/><rect class="c" x="177" y="-4" width="18" height="8" rx="12" ry="4"/><rect class="u" x="195" y="-2.8" width="13" height="5.6"/></g></g>
<g id="r33" transform="translate(0,610.43)"><text class="ni nl" x="1046.5" y="4">TraesCS5D03G0450200.1-nc</text><use href="#st" class="sf" x="1055" y=".6"/><use href="#sq"/><g transform="translate(1122.37,0) scale(.28423,1)"><path class="in" d="M55 0H484"/><rect class="c" x="55" y="-4" width="24" height="8" rx="12" ry="4"/><rect class="t" x="79" y="-2.2" width="353" height="4.4"/><rect class="c" x="434" y="-4" width="14" height="8" rx="12" ry="4"/><rect class="c" x="452" y="-4" width="10" height="8" rx="12" ry="4"/><rect class="t" x="462" y="-2.2" width="15" height="4.4"/><rect class="c" x="477" y="-4" width="3" height="8" rx="12" ry="4"/></g></g>
<g id="r34" transform="translate(0,627.14)"><text class="ni nl" x="1046.5" y="4">TraesCS5D03G0450600.1-nc</text><g transform="translate(1122.37,0) scale(.28423,1)"><path class="in" d="M55 0H96"/><rect class="c" x="55" y="-4" width="17" height="8" rx="12" ry="4"/><rect class="c" x="78" y="-4" width="18" height="8" rx="12" ry="4"/></g></g>
<g id="r35" transform="translate(0,643.85)"><text class="n" x="1046.5" y="4">TraesCS5B03G0485700.1</text><use href="#st" class="sf" x="1055" y=".6"/><use href="#tl"/><g transform="translate(1122.37,0) scale(.28423,1)"><path class="in" d="M55 0H287"/><rect class="u" x="55" y="-2.8" width="4" height="5.6"/><rect class="c" x="59" y="-4" width="25" height="8" rx="12" ry="4"/><rect class="t" x="107" y="-2.2" width="19" height="4.4"/><rect class="t" x="141" y="-2.2" width="16" height="4.4"/><rect class="t" x="194" y="-2.2" width="11" height="4.4"/><rect class="c" x="208" y="-4" width="25" height="8" rx="12" ry="4"/><rect class="c" x="235" y="-4" width="20" height="8" rx="12" ry="4"/><rect class="c" x="259" y="-4" width="20" height="8" rx="12" ry="4"/><rect class="u" x="279" y="-2.8" width="8" height="5.6"/></g></g>
<g id="r36" transform="translate(0,660.56)"><text class="ni nl" x="1046.5" y="4">TraesCS5D03G0450700.1-nc</text><use href="#st" class="sf" x="1055" y=".6"/><use href="#tl"/><g transform="translate(1122.37,0) scale(.28423,1)"><path class="in" d="M55 0H150" style="stroke-width:1.2"/><rect class="c" x="55" y="-4" width="24" height="8" rx="12" ry="4"/><rect class="c" x="124" y="-4" width="22" height="8" rx="12" ry="4"/><rect class="t" x="147" y="-2.2" width="3" height="4.4"/></g></g>
<g id="r37" transform="translate(0,677.27)"><text class="n" x="1046.5" y="4">TraesCS5A03G0486900.1</text><use href="#st" class="sf" x="1055" y=".6"/><use href="#sq"/><g transform="translate(1122.37,0) scale(.28423,1)"><path class="in" d="M55 0H222"/><rect class="u" x="55" y="-2.8" width="3" height="5.6"/><rect class="c" x="58" y="-4" width="25" height="8" rx="12" ry="4"/><rect class="c" x="133" y="-4" width="22" height="8" rx="12" ry="4"/><rect class="t" x="156" y="-2.2" width="5" height="4.4"/><rect class="c" x="162" y="-4" width="21" height="8" rx="12" ry="4"/><rect class="c" x="188" y="-4" width="18" height="8" rx="12" ry="4"/><rect class="u" x="206" y="-2.8" width="16" height="5.6"/></g></g>
<g id="r38" transform="translate(0,693.98)"><text class="n" x="1046.5" y="4">TraesCS2D03G0137200.1</text><use href="#tr"/><g transform="translate(1122.37,0) scale(.28423,1)"><path class="in" d="M55 0H190"/><rect class="u" x="55" y="-2.8" width="3" height="5.6"/><rect class="c" x="58" y="-4" width="23" height="8" rx="12" ry="4"/><rect class="c" x="102" y="-4" width="12" height="8" rx="12" ry="4"/><rect class="c" x="126" y="-4" width="9" height="8" rx="12" ry="4"/><rect class="c" x="140" y="-4" width="18" height="8" rx="12" ry="4"/><rect class="c" x="163" y="-4" width="18" height="8" rx="12" ry="4"/><rect class="u" x="181" y="-2.8" width="9" height="5.6"/></g></g>
<g id="r39" transform="translate(0,710.69)"><text class="n" x="1046.5" y="4">TraesCS2A03G0138700.1</text><use href="#st" class="sf" x="1055" y=".6"/><use href="#tr"/><g transform="translate(1122.37,0) scale(.28423,1)"><path class="in" d="M55 0H201"/><rect class="u" x="55" y="-2.8" width="3" height="5.6"/><rect class="c" x="58" y="-4" width="23" height="8" rx="12" ry="4"/><rect class="t" x="85" y="-2.2" width="8" height="4.4"/><rect class="c" x="110" y="-4" width="14" height="8" rx="12" ry="4"/><rect class="c" x="133" y="-4" width="10" height="8" rx="12" ry="4"/><rect class="c" x="147" y="-4" width="19" height="8" rx="12" ry="4"/><rect class="c" x="170" y="-4" width="20" height="8" rx="12" ry="4"/><rect class="u" x="190" y="-2.8" width="11" height="5.6"/></g></g>
<g id="r40" transform="translate(0,727.4)"><text class="n" x="1046.5" y="4">TraesCS2B03G0193600.1</text><use href="#tr"/><g transform="translate(1122.37,0) scale(.28423,1)"><path class="in" d="M55 0H187"/><rect class="u" x="55" y="-2.8" width="3" height="5.6"/><rect class="c" x="58" y="-4" width="23" height="8" rx="12" ry="4"/><rect class="c" x="102" y="-4" width="12" height="8" rx="12" ry="4"/><rect class="c" x="124" y="-4" width="9" height="8" rx="12" ry="4"/><rect class="c" x="139" y="-4" width="18" height="8" rx="12" ry="4"/><rect class="c" x="162" y="-4" width="18" height="8" rx="12" ry="4"/><rect class="u" x="180" y="-2.8" width="7" height="5.6"/></g></g>
<g id="r41" transform="translate(0,744.11)"><text class="n" x="1046.5" y="4">TraesCS2B03G0193300.1</text><use href="#tr"/><g transform="translate(1122.37,0) scale(.28423,1)"><path class="in" d="M55 0H178"/><rect class="c" x="55" y="-4" width="24" height="8" rx="12" ry="4"/><rect class="c" x="90" y="-4" width="4" height="8" rx="12" ry="4"/><rect class="c" x="99" y="-4" width="12" height="8" rx="12" ry="4"/><rect class="c" x="121" y="-4" width="10" height="8" rx="12" ry="4"/><rect class="c" x="137" y="-4" width="18" height="8" rx="12" ry="4"/><rect class="c" x="160" y="-4" width="18" height="8" rx="12" ry="4"/></g></g>
<g id="r42" transform="translate(0,760.82)"><text class="n" x="1046.5" y="4">TraesCS1D03G0254900.1</text><use href="#st" class="sf" x="1055" y=".6"/><use href="#tr"/><g transform="translate(1122.37,0) scale(.28423,1)"><path class="in" d="M55 0H818"/><rect class="u" x="55" y="-2.8" width="3" height="5.6"/><rect class="c" x="58" y="-4" width="24" height="8" rx="12" ry="4"/><rect class="t" x="88" y="-2.2" width="592" height="4.4"/><rect class="c" x="735" y="-4" width="13" height="8" rx="12" ry="4"/><rect class="c" x="752" y="-4" width="10" height="8" rx="12" ry="4"/><rect class="c" x="767" y="-4" width="18" height="8" rx="12" ry="4"/><rect class="c" x="789" y="-4" width="19" height="8" rx="12" ry="4"/><rect class="u" x="808" y="-2.8" width="10" height="5.6"/></g></g>
<g id="r43" transform="translate(0,777.53)"><text class="n" x="1046.5" y="4">TraesCS1A03G0258900.1</text><use href="#sq"/><g transform="translate(1122.37,0) scale(.28423,1)"><path class="in" d="M55 0H195"/><rect class="u" x="55" y="-2.8" width="3" height="5.6"/><rect class="c" x="58" y="-4" width="24" height="8" rx="12" ry="4"/><rect class="c" x="115" y="-4" width="12" height="8" rx="12" ry="4"/><rect class="c" x="132" y="-4" width="9" height="8" rx="12" ry="4"/><rect class="c" x="145" y="-4" width="19" height="8" rx="12" ry="4"/><rect class="c" x="168" y="-4" width="19" height="8" rx="12" ry="4"/><rect class="u" x="187" y="-2.8" width="8" height="5.6"/></g></g>
<g id="r44" transform="translate(0,794.24)"><text class="n" x="1046.5" y="4">TraesCS1A03G0258900.2</text><use href="#sq"/><g transform="translate(1122.37,0) scale(.28423,1)"><path class="in" d="M55 0H198"/><rect class="u" x="55" y="-2.8" width="3" height="5.6"/><rect class="c" x="58" y="-4" width="24" height="8" rx="12" ry="4"/><rect class="c" x="115" y="-4" width="12" height="8" rx="12" ry="4"/><rect class="c" x="132" y="-4" width="9" height="8" rx="12" ry="4"/><rect class="c" x="145" y="-4" width="19" height="8" rx="12" ry="4"/><rect class="c" x="168" y="-4" width="19" height="8" rx="12" ry="4"/><rect class="c" x="195" y="-4" width="3" height="8" rx="12" ry="4"/></g></g>
<g id="r45" transform="translate(0,810.95)"><text class="n" x="1046.5" y="4">TraesCS2A03G0138800.1</text><use href="#sq"/><g transform="translate(1122.37,0) scale(.28423,1)"><path class="in" d="M55 0H236"/><rect class="u" x="55" y="-2.8" width="11" height="5.6"/><rect class="c" x="66" y="-4" width="23" height="8" rx="12" ry="4"/><rect class="c" x="145" y="-4" width="12" height="8" rx="12" ry="4"/><rect class="c" x="168" y="-4" width="10" height="8" rx="12" ry="4"/><rect class="c" x="183" y="-4" width="20" height="8" rx="12" ry="4"/><rect class="c" x="207" y="-4" width="18" height="8" rx="12" ry="4"/><rect class="u" x="225" y="-2.8" width="11" height="5.6"/></g></g>
<g id="r46" transform="translate(0,827.66)"><text class="n" x="1046.5" y="4">TraesCS2D03G0137800.1</text><use href="#st" class="sf" x="1055" y=".6"/><g transform="translate(1122.37,0) scale(.28423,1)"><path class="in" d="M55 0H221"/><rect class="c" x="55" y="-4" width="24" height="8" rx="12" ry="4"/><rect class="t" x="132" y="-2.2" width="5" height="4.4"/><rect class="c" x="139" y="-4" width="14" height="8" rx="12" ry="4"/><rect class="c" x="164" y="-4" width="10" height="8" rx="12" ry="4"/><rect class="c" x="179" y="-4" width="20" height="8" rx="12" ry="4"/><rect class="c" x="203" y="-4" width="18" height="8" rx="12" ry="4"/></g></g>
<g id="r47" transform="translate(0,844.37)"><text class="ni nl" x="1046.5" y="4">TraesCS2B03G0194000.1-nc</text><use href="#st" class="sf" x="1055" y=".6"/><use href="#tr"/><g transform="translate(1122.37,0) scale(.28423,1)"><path class="in" d="M55 0H556"/><rect class="c" x="55" y="-4" width="7" height="8" rx="12" ry="4"/><rect class="t" x="73" y="-2.2" width="340" height="4.4"/><rect class="t" x="455" y="-2.2" width="5" height="4.4"/><rect class="c" x="466" y="-4" width="13" height="8" rx="12" ry="4"/><rect class="c" x="490" y="-4" width="10" height="8" rx="12" ry="4"/><rect class="c" x="506" y="-4" width="19" height="8" rx="12" ry="4"/><rect class="c" x="529" y="-4" width="19" height="8" rx="12" ry="4"/><rect class="u" x="548" y="-2.8" width="8" height="5.6"/></g></g>
<g id="r48" transform="translate(0,861.08)"><text class="n" x="1046.5" y="4">TraesCS2B03G0193800.1</text><use href="#st" class="sf" x="1055" y=".6"/><g transform="translate(1122.37,0) scale(.28423,1)"><path class="in" d="M55 0H1528"/><rect class="c" x="55" y="-4" width="24" height="8" rx="12" ry="4"/><rect class="t" x="90" y="-2.2" width="340" height="4.4"/><rect class="c" x="455" y="-4" width="4" height="8" rx="12" ry="4"/><rect class="t" x="478" y="-2.2" width="5" height="4.4"/><rect class="c" x="483" y="-4" width="12" height="8" rx="12" ry="4"/><rect class="c" x="506" y="-4" width="11" height="8" rx="12" ry="4"/><rect class="c" x="522" y="-4" width="19" height="8" rx="12" ry="4"/><rect class="t" x="832" y="-2.2" width="130" height="4.4"/><rect class="t" x="1004" y="-2.2" width="506" height="4.4"/><rect class="t" x="1510" y="-3.5" width="18" height="7"/></g></g>
<g id="r49" transform="translate(0,877.79)"><text class="n" x="1046.5" y="4">TraesCS2B03G0194300.1</text><use href="#st" class="sf" x="1055" y=".6"/><use href="#sq"/><g transform="translate(1122.37,0) scale(.28423,1)"><path class="in" d="M55 0H245"/><rect class="u" x="55" y="-2.8" width="4" height="5.6"/><rect class="c" x="59" y="-4" width="23" height="8" rx="12" ry="4"/><rect class="t" x="97" y="-2.2" width="6" height="4.4"/><rect class="t" x="141" y="-2.2" width="7" height="4.4"/><rect class="c" x="152" y="-4" width="13" height="8" rx="12" ry="4"/><rect class="c" x="176" y="-4" width="11" height="8" rx="12" ry="4"/><rect class="c" x="192" y="-4" width="19" height="8" rx="12" ry="4"/><rect class="c" x="215" y="-4" width="18" height="8" rx="12" ry="4"/><rect class="u" x="233" y="-2.8" width="12" height="5.6"/></g></g>
<g id="r50" transform="translate(0,894.5)"><text class="ni nl" x="1046.5" y="4">TraesCS2B03G0194200.1-nc</text><use href="#sq"/><g transform="translate(1122.37,0) scale(.28423,1)"><path class="in" d="M55 0H115"/><rect class="c" x="55" y="-4" width="5" height="8" rx="12" ry="4"/><rect class="c" x="62" y="-4" width="18" height="8" rx="12" ry="4"/><rect class="c" x="85" y="-4" width="18" height="8" rx="12" ry="4"/><rect class="u" x="103" y="-2.8" width="12" height="5.6"/></g></g>
<g id="r51" transform="translate(0,911.21)"><text class="n" x="1046.5" y="4">TraesCS2B03G0194100.1</text><use href="#st" class="sf" x="1055" y=".6"/><use href="#sq"/><g transform="translate(1122.37,0) scale(.28423,1)"><path class="in" d="M55 0H241"/><rect class="u" x="55" y="-2.8" width="3" height="5.6"/><rect class="c" x="58" y="-4" width="22" height="8" rx="12" ry="4"/><rect class="t" x="95" y="-2.2" width="6" height="4.4"/><rect class="t" x="138" y="-2.2" width="6" height="4.4"/><rect class="c" x="149" y="-4" width="13" height="8" rx="12" ry="4"/><rect class="c" x="173" y="-4" width="11" height="8" rx="12" ry="4"/><rect class="c" x="189" y="-4" width="19" height="8" rx="12" ry="4"/><rect class="c" x="213" y="-4" width="18" height="8" rx="12" ry="4"/><rect class="u" x="231" y="-2.8" width="10" height="5.6"/></g></g>
<g id="r52" transform="translate(0,927.92)"><text class="n" x="1046.5" y="4">TraesCS7D03G1269100.1</text><use href="#st" class="sf" x="1055" y=".6"/><use href="#tr"/><g transform="translate(1122.37,0) scale(.28423,1)"><path class="in" d="M55 0H193"/><rect class="c" x="55" y="-4" width="24" height="8" rx="12" ry="4"/><rect class="t" x="89" y="-2.2" width="8" height="4.4"/><rect class="c" x="100" y="-4" width="12" height="8" rx="12" ry="4"/><rect class="c" x="124" y="-4" width="11" height="8" rx="12" ry="4"/><rect class="c" x="140" y="-4" width="18" height="8" rx="12" ry="4"/><rect class="c" x="163" y="-4" width="18" height="8" rx="12" ry="4"/><rect class="u" x="181" y="-2.8" width="12" height="5.6"/></g></g>
<g id="r53" transform="translate(0,944.63)"><text class="n" x="1046.5" y="4">TraesCS7B03G1279500.1</text><use href="#tr"/><g transform="translate(1122.37,0) scale(.28423,1)"><path class="in" d="M55 0H164"/><rect class="c" x="55" y="-4" width="24" height="8" rx="12" ry="4"/><rect class="c" x="83" y="-4" width="13" height="8" rx="12" ry="4"/><rect class="c" x="106" y="-4" width="12" height="8" rx="12" ry="4"/><rect class="c" x="123" y="-4" width="18" height="8" rx="12" ry="4"/><rect class="c" x="145" y="-4" width="19" height="8" rx="12" ry="4"/></g></g>
<g id="r54" transform="translate(0,961.34)"><text class="n" x="1046.5" y="4">TraesCS7D03G1268300.1</text><use href="#st" class="sf" x="1055" y=".6"/><use href="#sq"/><g transform="translate(1122.37,0) scale(.28423,1)"><path class="in" d="M55 0H509"/><rect class="c" x="55" y="-4" width="27" height="8" rx="12" ry="4"/><rect class="t" x="127" y="-2.2" width="209" height="4.4"/><rect class="t" x="352" y="-2.2" width="5" height="4.4"/><rect class="c" x="422" y="-4" width="13" height="8" rx="12" ry="4"/><rect class="c" x="444" y="-4" width="11" height="8" rx="12" ry="4"/><rect class="c" x="460" y="-4" width="18" height="8" rx="12" ry="4"/><rect class="c" x="483" y="-4" width="18" height="8" rx="12" ry="4"/><rect class="u" x="501" y="-2.8" width="8" height="5.6"/></g></g>
<g id="r55" transform="translate(0,978.05)"><text class="n" x="1046.5" y="4">TraesCS7A03G1341700.1</text><use href="#tr"/><g transform="translate(1122.37,0) scale(.28423,1)"><path class="in" d="M55 0H265"/><rect class="u" x="55" y="-2.8" width="5" height="5.6"/><rect class="c" x="60" y="-4" width="24" height="8" rx="12" ry="4"/><rect class="c" x="173" y="-4" width="12" height="8" rx="12" ry="4"/><rect class="c" x="195" y="-4" width="11" height="8" rx="12" ry="4"/><rect class="c" x="211" y="-4" width="19" height="8" rx="12" ry="4"/><rect class="c" x="234" y="-4" width="18" height="8" rx="12" ry="4"/><rect class="u" x="252" y="-2.8" width="13" height="5.6"/></g></g>
<g id="r56" transform="translate(0,994.76)"><text class="ni nl" x="1046.5" y="4">TraesCS7D03G1268300.2-nc</text><use href="#st" class="sf" x="1055" y=".6"/><use href="#sq"/><g transform="translate(1122.37,0) scale(.28423,1)"><path class="in" d="M55 0H509"/><rect class="c" x="55" y="-4" width="27" height="8" rx="12" ry="4"/><rect class="t" x="127" y="-2.2" width="209" height="4.4"/><rect class="t" x="352" y="-2.2" width="5" height="4.4"/><rect class="c" x="422" y="-4" width="13" height="8" rx="12" ry="4"/><rect class="c" x="444" y="-4" width="11" height="8" rx="12" ry="4"/><rect class="c" x="460" y="-4" width="11" height="8" rx="12" ry="4"/><rect class="c" x="484" y="-4" width="4" height="8" rx="12" ry="4"/><rect class="u" x="488" y="-3.5" width="21" height="7"/></g></g>
<g id="r57" transform="translate(0,1011.47)"><text class="ni nl" x="1046.5" y="4">TraesCS7A03G1341700.2-nc</text><use href="#tr"/><g transform="translate(1122.37,0) scale(.28423,1)"><path class="in" d="M55 0H265"/><rect class="u" x="55" y="-2.8" width="5" height="5.6"/><rect class="c" x="60" y="-4" width="25" height="8" rx="12" ry="4"/><rect class="c" x="173" y="-4" width="12" height="8" rx="12" ry="4"/><rect class="c" x="195" y="-4" width="11" height="8" rx="12" ry="4"/><rect class="c" x="211" y="-4" width="11" height="8" rx="12" ry="4"/><rect class="c" x="234" y="-4" width="4" height="8" rx="12" ry="4"/><rect class="u" x="238" y="-3.5" width="27" height="7"/></g></g>
<g id="r58" transform="translate(0,1028.18)"><text class="ni nl" x="1046.5" y="4">TraesCS7A03G1342300.1-nc</text><use href="#tr"/><g transform="translate(1122.37,0) scale(.28423,1)"><path class="in" d="M55 0H100"/><rect class="c" x="55" y="-4" width="15" height="8" rx="12" ry="4"/><rect class="c" x="78" y="-4" width="4" height="8" rx="12" ry="4"/><rect class="c" x="88" y="-4" width="12" height="8" rx="12" ry="4"/></g></g>
<g id="r59" transform="translate(0,1044.89)"><text class="ni nl" x="1046.5" y="4">TraesCSU03G0348300.1-nc</text><use href="#st" class="sf" x="1055" y=".6"/><use href="#sq"/><g transform="translate(1122.37,0) scale(.28423,1)"><path class="in" d="M55 0H180"/><rect class="u" x="55" y="-2.8" width="3" height="5.6"/><rect class="c" x="58" y="-4" width="23" height="8" rx="12" ry="4"/><rect class="t" x="128" y="-3" width="19" height="6"/><rect class="c" x="162" y="-4" width="18" height="8" rx="12" ry="4"/></g></g>
<g id="r60" transform="translate(0,1061.6)"><text class="ni nl" x="1046.5" y="4">TraesCS7B03G1279300.1-nc</text><use href="#sq"/><g transform="translate(1122.37,0) scale(.28423,1)"><rect class="c" x="55" y="-4" width="24" height="8" rx="12" ry="4"/></g></g>
<g id="r61" transform="translate(0,1078.31)"><text class="n" x="1046.5" y="4">TraesCS7B03G1279000.2</text><use href="#st" class="sf" x="1055" y=".6"/><use href="#sq"/><g transform="translate(1122.37,0) scale(.28423,1)"><path class="in" d="M55 0H257"/><rect class="u" x="55" y="-2.8" width="6" height="5.6"/><rect class="c" x="61" y="-4" width="25" height="8" rx="12" ry="4"/><rect class="t" x="132" y="-3" width="16" height="6"/><rect class="c" x="166" y="-4" width="13" height="8" rx="12" ry="4"/><rect class="c" x="189" y="-4" width="11" height="8" rx="12" ry="4"/><rect class="c" x="203" y="-4" width="18" height="8" rx="12" ry="4"/><rect class="c" x="226" y="-4" width="19" height="8" rx="12" ry="4"/><rect class="u" x="245" y="-2.8" width="12" height="5.6"/></g></g>
<g id="r62" transform="translate(0,1095.02)"><text class="n" x="1046.5" y="4">TraesCS7B03G1279000.1</text><use href="#st" class="sf" x="1055" y=".6"/><use href="#sq"/><g transform="translate(1122.37,0) scale(.28423,1)"><path class="in" d="M55 0H257"/><rect class="u" x="55" y="-2.8" width="6" height="5.6"/><rect class="c" x="61" y="-4" width="25" height="8" rx="12" ry="4"/><rect class="t" x="132" y="-3" width="16" height="6"/><rect class="c" x="166" y="-4" width="13" height="8" rx="12" ry="4"/><rect class="c" x="189" y="-4" width="11" height="8" rx="12" ry="4"/><rect class="c" x="203" y="-4" width="19" height="8" rx="12" ry="4"/><rect class="c" x="226" y="-4" width="19" height="8" rx="12" ry="4"/><rect class="u" x="245" y="-2.8" width="12" height="5.6"/></g></g>
</g>

<g id="scale-axis">
<path d="M1138 1111.2H1556.4" stroke="#000" stroke-width="1" fill="none"/>
<path stroke="#000" stroke-width=".8" fill="none" d="M1138 1111V1107.8M1152.78 1111V1107.8M1167.56 1111V1107.8M1182.34 1111V1107.8M1197.12 1111V1107.8M1211.9 1111V1107.8M1226.68 1111V1107.8M1241.46 1111V1107.8M1256.24 1111V1107.8M1271.02 1111V1107.8M1285.8 1111V1107.8M1300.58 1111V1107.8M1315.36 1111V1107.8M1330.14 1111V1107.8M1344.92 1111V1107.8M1359.7 1111V1107.8M1374.48 1111V1107.8M1389.26 1111V1107.8M1404.04 1111V1107.8M1418.82 1111V1107.8M1433.6 1111V1107.8M1448.38 1111V1107.8M1463.16 1111V1107.8M1477.94 1111V1107.8M1492.72 1111V1107.8M1507.5 1111V1107.8M1522.28 1111V1107.8M1537.06 1111V1107.8M1551.84 1111V1107.8"/>
<text class="ax" x="1130" y="1107">5'</text>
<text class="ax" x="1563" y="1107">3'</text>
<text class="ax" x="1140.5" y="1120.4">0kb</text>
<text class="ax" x="1155.3" y="1120.4">1kb</text>
<text class="ax" x="1170.1" y="1120.4">2kb</text>
<text class="ax" x="1184.8" y="1120.4">3kb</text>
<text class="ax" x="1199.6" y="1120.4">4kb</text>
<text class="ax" x="1214.4" y="1120.4">5kb</text>
<text class="ax" x="1229.2" y="1120.4">6kb</text>
<text class="ax" x="1244" y="1120.4">7kb</text>
<text class="ax" x="1258.7" y="1120.4">8kb</text>
<text class="ax" x="1273.5" y="1120.4">9kb</text>
<text class="ax" x="1288.8" y="1120.4">10kb</text>
<text class="ax" x="1318.4" y="1120.4">12kb</text>
<text class="ax" x="1347.9" y="1120.4">14kb</text>
<text class="ax" x="1377.5" y="1120.4">16kb</text>
<text class="ax" x="1407" y="1120.4">18kb</text>
<text class="ax" x="1436.6" y="1120.4">20kb</text>
<text class="ax" x="1466.2" y="1120.4">22kb</text>
<text class="ax" x="1495.7" y="1120.4">24kb</text>
<text class="ax" x="1525.3" y="1120.4">26kb</text>
<text class="ax" x="1554.8" y="1120.4">28kb</text>
</g>

<g id="panel-labels">
<text x="1055" y="1142" style="font-family:'Liberation Sans',Arial,sans-serif;font-size:20px;text-anchor:middle">(I)</text>
<text x="1122" y="1142" style="font-family:'Liberation Sans',Arial,sans-serif;font-size:20px">(II)</text>
</g>
</g>
</svg>
